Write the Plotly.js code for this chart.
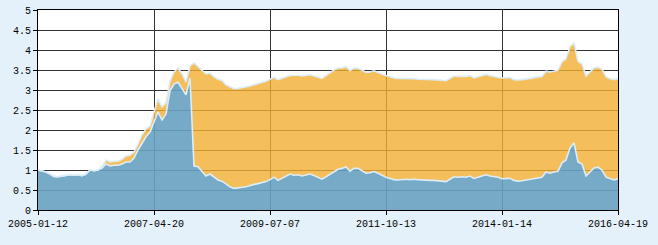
<!DOCTYPE html>
<html>
<head>
<meta charset="utf-8">
<script src="https://cdn.plot.ly/plotly-3.0.1.min.js"></script>
<style>
html,body{margin:0;padding:0;background:#e5f1fa;}
#chart{width:658px;height:245px;}
</style>
</head>
<body>
<div id="chart"></div>
<script>
// Tick labels (dates) and the sample index at which each one sits
var tickLabels = ["2005-01-12","2007-04-20","2009-07-07","2011-10-13","2014-01-14","2016-04-19"];
var tickIndex = [0, 29, 58, 87, 116, 145];

// Unit NAV (blue area), sampled evenly along the trading-day axis
var unitNav = [
 1.00,0.98,0.95,0.90,0.84,0.83,0.85,0.86,0.88,0.87,
 0.88,0.86,0.90,1.00,0.98,1.00,1.05,1.15,1.10,1.12,
 1.12,1.15,1.20,1.20,1.30,1.50,1.68,1.83,1.95,2.20,
 2.45,2.25,2.40,2.98,3.15,3.20,3.05,2.88,3.30,1.10,
 1.08,0.95,0.85,0.90,0.83,0.75,0.72,0.65,0.58,0.54,
 0.56,0.57,0.58,0.62,0.64,0.66,0.68,0.71,0.76,0.82,
 0.74,0.79,0.85,0.90,0.87,0.88,0.85,0.87,0.90,0.86,
 0.82,0.77,0.83,0.90,0.97,1.02,1.04,1.08,0.97,1.04,
 1.04,0.98,0.92,0.93,0.96,0.92,0.86,0.82,0.79,0.76,
 0.75,0.76,0.77,0.76,0.77,0.76,0.75,0.75,0.74,0.74,
 0.73,0.72,0.71,0.77,0.83,0.82,0.83,0.82,0.85,0.79,
 0.82,0.85,0.88,0.85,0.83,0.82,0.78,0.79,0.79,0.74,
 0.72,0.73,0.75,0.77,0.79,0.81,0.82,0.95,0.92,0.95,
 0.97,1.18,1.25,1.55,1.68,1.20,1.15,0.85,0.95,1.05,
 1.07,1.00,0.82,0.78,0.75,0.78
];

// Accumulated NAV (orange area)
var accNav = [
 1.00,0.98,0.95,0.90,0.84,0.83,0.85,0.86,0.88,0.87,
 0.88,0.86,0.90,1.00,0.98,1.00,1.08,1.25,1.20,1.22,
 1.22,1.27,1.35,1.37,1.45,1.65,1.88,2.03,2.10,2.45,
 2.78,2.58,2.68,3.22,3.45,3.55,3.40,3.20,3.60,3.68,
 3.58,3.50,3.40,3.42,3.33,3.27,3.24,3.13,3.08,3.03,
 3.04,3.06,3.07,3.10,3.13,3.16,3.18,3.22,3.27,3.32,
 3.26,3.30,3.34,3.36,3.37,3.37,3.35,3.36,3.38,3.35,
 3.32,3.29,3.36,3.44,3.50,3.55,3.55,3.59,3.49,3.55,
 3.54,3.50,3.44,3.45,3.48,3.44,3.39,3.36,3.33,3.30,
 3.29,3.29,3.29,3.28,3.28,3.27,3.27,3.27,3.26,3.26,
 3.25,3.24,3.23,3.29,3.35,3.34,3.34,3.34,3.36,3.30,
 3.33,3.36,3.39,3.36,3.34,3.33,3.30,3.31,3.31,3.26,
 3.25,3.26,3.27,3.29,3.31,3.33,3.34,3.47,3.45,3.47,
 3.50,3.70,3.78,4.08,4.18,3.72,3.65,3.35,3.46,3.55,
 3.57,3.52,3.33,3.28,3.26,3.28
];

var xs = unitNav.map(function(_, i){ return i; });

var edge = '#dcedf8';
var traces = [
  {x: xs, y: unitNav, type: 'scatter', mode: 'lines', fill: 'tozeroy',
   line: {color: edge, width: 1.6, shape: 'linear'}, fillcolor: 'rgba(103,161,192,0.9)',
   hoverinfo: 'skip', showlegend: false},
  {x: xs, y: accNav, type: 'scatter', mode: 'lines', fill: 'tonexty',
   line: {color: edge, width: 1.6, shape: 'linear'}, fillcolor: 'rgba(241,174,49,0.8)',
   hoverinfo: 'skip', showlegend: false}
];

var tickFont = {family: 'Liberation Mono, DejaVu Sans Mono, monospace', size: 10, color: '#000'};
var layout = {
  width: 658, height: 245,
  margin: {l: 38, r: 40, t: 10, b: 35},
  paper_bgcolor: '#e5f1fa',
  plot_bgcolor: '#ffffff',
  showlegend: false,
  xaxis: {
    range: [0, 145], tickmode: 'array', tickvals: tickIndex, ticktext: tickLabels,
    showgrid: true, gridcolor: '#333333', gridwidth: 1,
    showline: true, linecolor: '#000', linewidth: 1, mirror: true,
    ticks: 'outside', ticklen: 4, tickcolor: '#000',
    tickfont: tickFont, zeroline: false, fixedrange: true
  },
  yaxis: {
    range: [0, 5], dtick: 0.5, tick0: 0,
    showgrid: true, gridcolor: '#333333', gridwidth: 1,
    showline: true, linecolor: '#000', linewidth: 1, mirror: true,
    ticks: 'outside', ticklen: 4, tickcolor: '#000',
    tickfont: tickFont, zeroline: false, fixedrange: true
  }
};
Plotly.newPlot('chart', traces, layout, {staticPlot: true, displayModeBar: false});
</script>
</body>
</html>
